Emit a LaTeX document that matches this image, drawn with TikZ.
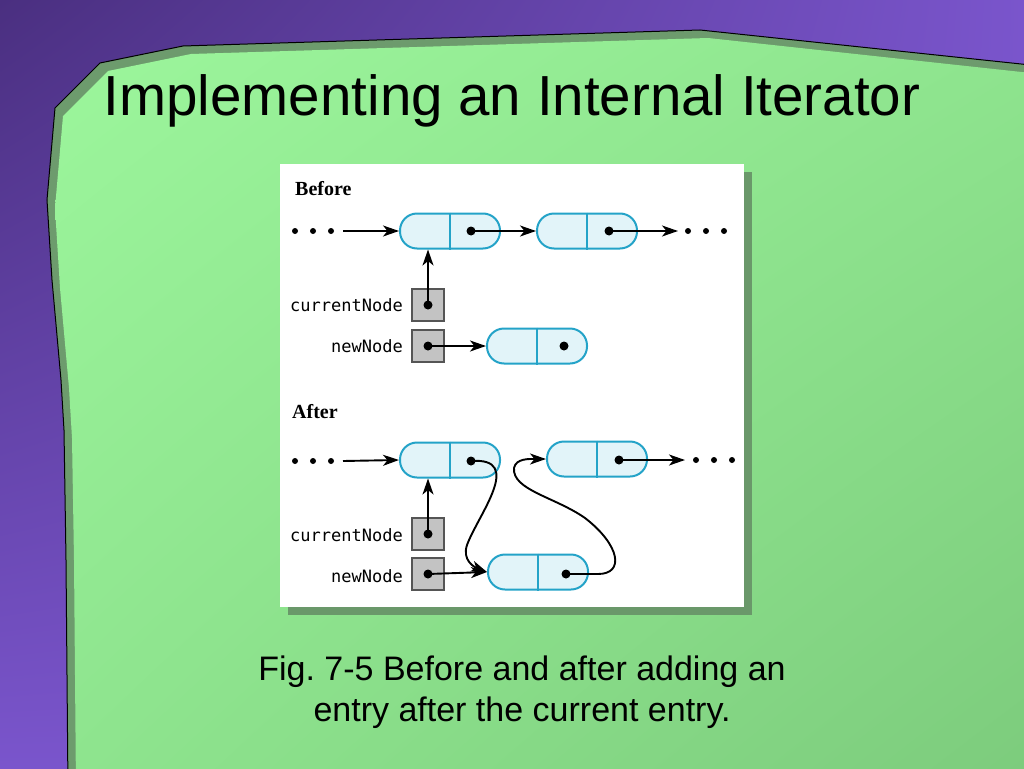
\documentclass[tikz,border=0pt]{standalone}
\usepackage{fontspec}
\newfontfamily\arialf{Liberation Sans}
\newfontfamily\monof{DejaVu Sans Mono}
\newfontfamily\timesf{Liberation Serif}
\usetikzlibrary{arrows.meta,shadings}
\definecolor{purpA}{HTML}{4A2F80}
\definecolor{purpC}{HTML}{7A55CC}
\definecolor{grnA}{HTML}{9CF69C}
\definecolor{grnB}{HTML}{8EE48E}
\definecolor{grnC}{HTML}{7CCB7C}
\definecolor{grnDark}{HTML}{6D9B6D}
\definecolor{panelShadow}{HTML}{6A986A}
\definecolor{pillLine}{HTML}{24A3C8}
\definecolor{pillFill}{HTML}{E2F4F9}
\definecolor{boxFill}{HTML}{C3C3C3}
\definecolor{boxLine}{HTML}{555555}
\tikzset{
  pill/.style={draw=pillLine, fill=pillFill, line width=2pt, rounded corners=17pt,
    minimum width=100pt, minimum height=35pt, inner sep=0pt},
  ptr/.style={draw=boxLine, fill=boxFill, line width=1.2pt, minimum width=32pt,
    minimum height=32pt, inner sep=0pt},
  arr/.style={line width=1.9pt, -{Stealth[length=16pt,width=11pt,inset=4.5pt]}},
  lbl/.style={font=\monof\fontsize{17}{18}\selectfont, anchor=east, inner sep=0pt},
  hdr/.style={font=\timesf\bfseries\fontsize{20}{20}\selectfont, anchor=base west, inner sep=0pt},
}
\newcommand{\pilldiv}[1]{\draw[pillLine, line width=1.8pt] (#1.north) -- (#1.south);}
\begin{document}
\begin{tikzpicture}[x=1pt, y=-1pt]
\useasboundingbox (0,0) rectangle (1024,768);
% background
\shade[upper left=purpA, upper right=purpC, lower left=purpC, lower right=purpC]
  (0,0) rectangle (1024,768);
% green shape with dark band
\path[fill=grnDark, draw=black, line width=1pt]
  (68,790) -- (66,560) -- (64,430) -- (61,380) -- (52,280) -- (47,200) -- (55,108)
  -- (100,63) -- (183,46) -- (700,30) -- (1040,66) -- (1040,790) -- cycle;
\shade[upper left=grnA, upper right=grnB, lower left=grnB, lower right=grnC]
  (76,790) -- (74,560) -- (72,438) -- (69,388) -- (60,288) -- (55,208) -- (63,116)
  -- (108,71) -- (191,54) -- (708,38) -- (1040,74) -- (1040,790) -- cycle;
% title
\node[font=\arialf\fontsize{56.5}{60}\selectfont, anchor=base, inner sep=0pt]
  (title) at (512,115) {Implementing an Internal Iterator};
% panel
\fill[panelShadow] (288,172) rectangle (752,615);
\fill[white] (280,164) rectangle (744,607);
% ---------------- Before ----------------
\node[hdr] (hb) at (295,195) {Before};
\foreach \x in {295,313,331} \fill (\x,231) circle (3);
\coordinate (bs) at (343,231);
\node[pill] (n1) at (450,231) {};
\node[pill] (n2) at (587,231) {};
\node[pill] (n3) at (537,346) {};
\pilldiv{n1}\pilldiv{n2}\pilldiv{n3}
\coordinate (n1d) at (471,231);
\coordinate (n2d) at (609,231);
\coordinate (n3d) at (564,346);
\coordinate (be) at (678,231);
\foreach \x in {688,706,724} \fill (\x,231) circle (3);
\node[ptr] (bc) at (428,305) {};
\node[ptr] (bn) at (428,346) {};
\coordinate (bcd) at (428,305);
\coordinate (bnd) at (428,346);
\node[lbl] (lbc) at (403,305) {currentNode};
\node[lbl] (lbn) at (403,346) {newNode};
\draw[arr] (bs) -- (n1.west);
\draw[arr] (n1d) -- (n2.west);
\draw[arr] (n2d) -- (be);
\draw[arr] (bcd) -- (bcd |- n1.south);
\draw[arr] (bnd) -- (n3.west);
\foreach \c in {n1d,n2d,n3d,bcd,bnd} \fill (\c) circle (4.5);
% ---------------- After ----------------
\node[hdr] (ha) at (292,418) {After};
\foreach \x in {295,313,331} \fill (\x,461) circle (3);
\coordinate (as) at (343,461);
\node[pill] (na) at (450,460) {};
\node[pill] (nb) at (597,459) {};
\node[pill] (nc) at (538,572) {};
\pilldiv{na}\pilldiv{nb}\pilldiv{nc}
\coordinate (nad) at (471,461);
\coordinate (nbd) at (619,460);
\coordinate (ncd) at (566,574);
\coordinate (ae) at (685,460);
\foreach \x in {696,714,732} \fill (\x,460) circle (3);
\node[ptr] (ac) at (428,534) {};
\node[ptr] (an) at (428,574) {};
\coordinate (acd) at (428,534);
\coordinate (and) at (428,574);
\node[lbl] (lac) at (403,535) {currentNode};
\node[lbl] (lan) at (403,576) {newNode};
\draw[arr] (as) -- (na.west);
\draw[arr] (nbd) -- (ae);
\draw[arr] (acd) -- (acd |- na.south);
\draw[arr] (and) -- (nc.west);
\draw[arr] (nad) .. controls (525,457) and (478,515) .. (467,545)
  .. controls (462,560) and (474,567) .. (nc.west);
\draw[arr] (ncd) -- (598,574) .. controls (625,574) and (620,545) .. (585,518)
  .. controls (555,497) and (512,490) .. (514,468)
  .. controls (516,458) and (530,459) .. (nb.west);
\foreach \c in {nad,nbd,ncd,acd,and} \fill (\c) circle (4.5);
% caption
\node[font=\arialf\fontsize{34}{41}\selectfont, align=center, anchor=base, inner sep=0pt]
  (cap) at (522,721) {\frenchspacing Fig. 7-5 Before and after adding an\\entry after the current entry.};
\end{tikzpicture}
\end{document}
